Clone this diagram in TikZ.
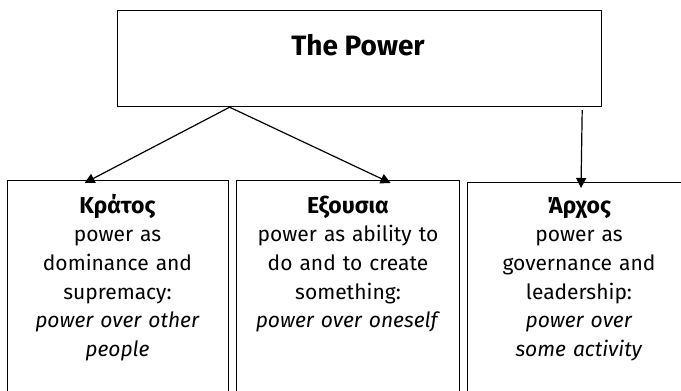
\documentclass[tikz,border=0pt]{standalone}
\usepackage{fontspec}
\setmainfont{Fira Sans}
\usetikzlibrary{arrows.meta}
% heading of each lower box, and a strut fixing the height of its first line
\newcommand\meaninghead[1]{\rule{0pt}{20pt}{\fontsize{23pt}{28.6pt}\selectfont\bfseries #1}}
\begin{document}
\begin{tikzpicture}[x=1pt,y=1pt,
  frame/.style={draw=black, line width=1.2pt, rectangle, inner sep=0pt},
  lowerbox/.style={frame, anchor=north west, minimum height=260pt},
  boxtext/.style={anchor=north, inner sep=0pt, align=center, text width=#1,
    font=\fontsize{21pt}{28.6pt}\selectfont},
  arr/.style={draw=black, line width=1.2pt, -{Triangle[length=10pt,width=10pt]}}]
\useasboundingbox (0,0) rectangle (681,-391);
\clip (0,0) rectangle (681,-391);

% header box
\node[frame, anchor=north west, minimum width=484pt, minimum height=96pt] (power) at (117,-10) {};
\node[anchor=base, inner sep=0pt, font=\fontsize{28pt}{32pt}\selectfont\bfseries] (powertitle) at (358,-55.5) {The Power};

% the three meanings
\node[lowerbox, minimum width=221pt] (kratos) at (7,-180) {};
\node[lowerbox, minimum width=223pt] (exousia) at (236,-180) {};
\node[lowerbox, minimum width=224pt] (archos) at (467,-182) {};

\node[boxtext=218pt] (kratostext) at (117.5,-193) {\meaninghead{Κράτος}\\ power as\\ dominance and\\ supremacy:\\ \textit{power over other}\\ \textit{people}};
\node[boxtext=222pt] (exousiatext) at (348,-193) {\meaninghead{Εξουσια}\\ power as ability to\\ do and to create\\ something:\\ \textit{power over oneself}};
\node[boxtext=218pt] (archostext) at (579,-193) {\meaninghead{Άρχος}\\ power as\\ governance and\\ leadership:\\ \textit{power over}\\ \textit{some activity}};

% connectors
\coordinate (fork) at ([xshift=-130pt]power.south);
\draw[arr] (fork) -- ([xshift=-33.5pt,yshift=-3pt]kratos.north);
\draw[arr] (fork) -- ([xshift=42.5pt,yshift=-3pt]exousia.north);
\draw[arr] ([xshift=-20pt,yshift=-3pt]power.south east) -- ([xshift=114pt,yshift=-6pt]archos.north west);
\end{tikzpicture}
\end{document}
